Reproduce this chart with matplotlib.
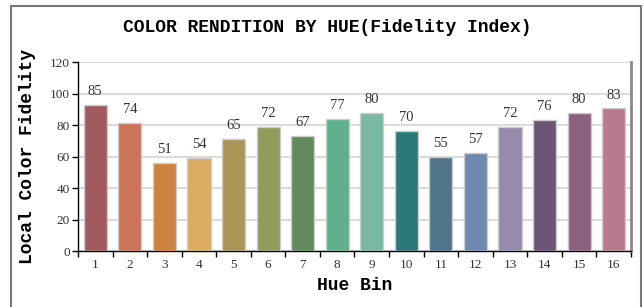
import numpy as np
import matplotlib.pyplot as plt
from matplotlib.patches import Rectangle

# 数据
bins = [str(i) for i in range(1, 17)]
fidelity = [85, 74, 51, 54, 65, 72, 67, 77, 80, 70, 55, 57, 72, 76, 80, 83]
bar_heights = [93, 81, 56, 59, 71, 79, 73, 84, 87.5, 76, 60, 62, 78.5, 83, 87.5, 90.5]
colors = ['#a25a5e', '#cd735a', '#cd8240', '#dbab62', '#aa9757', '#919c5c',
          '#638a5c', '#5fb08d', '#79b9a4', '#2a7878', '#50748a', '#6e88b0',
          '#978aab', '#6d5576', '#8c6080', '#ba7a8d']
yticks = [0, 20, 40, 60, 80, 100, 120]

fig = plt.figure(figsize=(6.44, 3.07), dpi=100)
ax = fig.add_axes([0.1211, 0.1824, 0.8587, 0.6156])

x = np.arange(1, len(bins) + 1)
ax.bar(x, bar_heights, width=0.67, color=colors, edgecolor='#cccccc', linewidth=1, zorder=3)
for xi, h, v in zip(x, bar_heights, fidelity):
    ax.annotate(str(v), (xi, h), xytext=(0, 5), textcoords='offset points',
                ha='center', va='bottom', fontsize=10.5, family='Liberation Serif', color='#333333')

ax.set_xlim(0.5, len(bins) + 0.5)
ax.set_ylim(0, 120)
ax.set_yticks(yticks)
ax.set_yticklabels([str(t) for t in yticks], family='Liberation Serif', fontsize=9.5, color='#333333')
ax.set_xticks(np.arange(0.5, len(bins) + 1, 1))
ax.set_xticklabels([])
ax.set_xticks(x, minor=True)
ax.set_xticklabels(bins, minor=True, family='Liberation Serif', fontsize=9.5, color='#333333')
ax.tick_params(axis='x', which='major', length=4, width=1, direction='out')
ax.tick_params(axis='x', which='minor', length=0, pad=6)
ax.tick_params(axis='y', length=4, width=1, direction='out', pad=2)

ax.grid(axis='y', color='#d4d4d4', linewidth=1.2, zorder=0)
ax.spines['top'].set_visible(False)
ax.spines['right'].set_color('#888888')
ax.spines['right'].set_linewidth(2)
ax.spines['left'].set_linewidth(1)
ax.spines['bottom'].set_linewidth(1)

ax.set_xlabel('Hue Bin', family='Liberation Mono', fontweight='bold', fontsize=13, labelpad=4)
ax.set_ylabel('Local Color Fidelity', family='Liberation Mono', fontweight='bold', fontsize=13, labelpad=10)
fig.text(0.508, 0.912, 'COLOR RENDITION BY HUE(Fidelity Index)', ha='center', va='center',
         family='Liberation Mono', fontweight='bold', fontsize=13)

# 外框
fig.patches.append(Rectangle((11 / 644, -0.05), 630 / 644, 1.05 - 6 / 307, transform=fig.transFigure,
                             fill=False, edgecolor='#777777', linewidth=1.5))

fig.savefig('out.png', dpi=100)
